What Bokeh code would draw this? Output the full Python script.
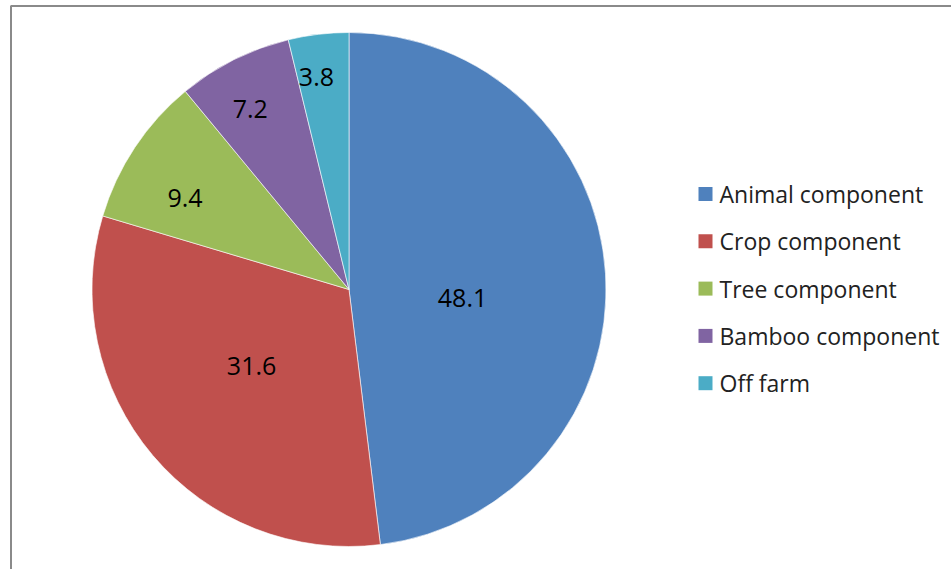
import math
from bokeh.plotting import figure
from bokeh.models import Range1d, ColumnDataSource
from bokeh.core.properties import value
from bokeh.embed import file_html
from bokeh.resources import INLINE

categories = ["Animal component", "Crop component", "Tree component", "Bamboo component", "Off farm"]
values = [48.1, 31.6, 9.4, 7.2, 3.8]
colors = ["#4F81BD", "#C0504D", "#9BBB59", "#8064A2", "#4BACC6"]
label_radius_frac = [0.443, 0.483, 0.731, 0.802, 0.835]
label_angle_shift_deg = [-7.8, -1.9, 4.3, 2.0, 1.9]

W, H = 951, 569
cx, cy, R = 348.5, H - 289.0, 257.0
FONT = "Open Sans"

p = figure(width=W, height=H, output_backend="svg", toolbar_location=None,
           x_range=Range1d(0, W), y_range=Range1d(0, H), min_border=0)
p.axis.visible = False
p.grid.visible = False
p.outline_line_color = None
p.background_fill_color = "white"
p.border_fill_color = "white"

total = sum(values)
starts, ends, lx, ly, texts = [], [], [], [], []
cum = 0.0
for v, f, s in zip(values, label_radius_frac, label_angle_shift_deg):
    a0 = cum / total
    cum += v
    a1 = cum / total
    starts.append(math.pi / 2 - a1 * 2 * math.pi)
    ends.append(math.pi / 2 - a0 * 2 * math.pi)
    mid = math.pi / 2 - (a0 + a1) / 2 * 2 * math.pi + math.radians(s)
    lx.append(cx + R * f * math.cos(mid))
    ly.append(cy + R * f * math.sin(mid))
    texts.append(f"{v}")

src = ColumnDataSource(dict(start=starts, end=ends, color=colors))
p.wedge(x=cx, y=cy, radius=R, start_angle="start", end_angle="end", direction="anticlock",
        fill_color="color", line_color="white", line_width=1, line_alpha=0.6, source=src)

p.text(x=lx, y=ly, text=texts, text_font=value(FONT), text_font_size="25px",
       text_align="center", text_baseline="middle", text_color="#000000")

# legend
leg_y0, leg_dy = H - 193.5, 47.3
leg_y = [leg_y0 - i * leg_dy for i in range(len(categories))]
p.rect(x=[705] * len(categories), y=leg_y, width=14, height=14, fill_color=colors, line_color=None)
p.text(x=[719] * len(categories), y=leg_y, text=categories, text_font=value(FONT),
       text_font_size="23px", text_align="left", text_baseline="middle", text_color="#222222")

# frame lines
p.line(x=[10.5, 10.5, W], y=[0, H - 5.5, H - 5.5], line_color="#8a8a8a", line_width=2)

open("out.html", "w").write(file_html(p, INLINE))
